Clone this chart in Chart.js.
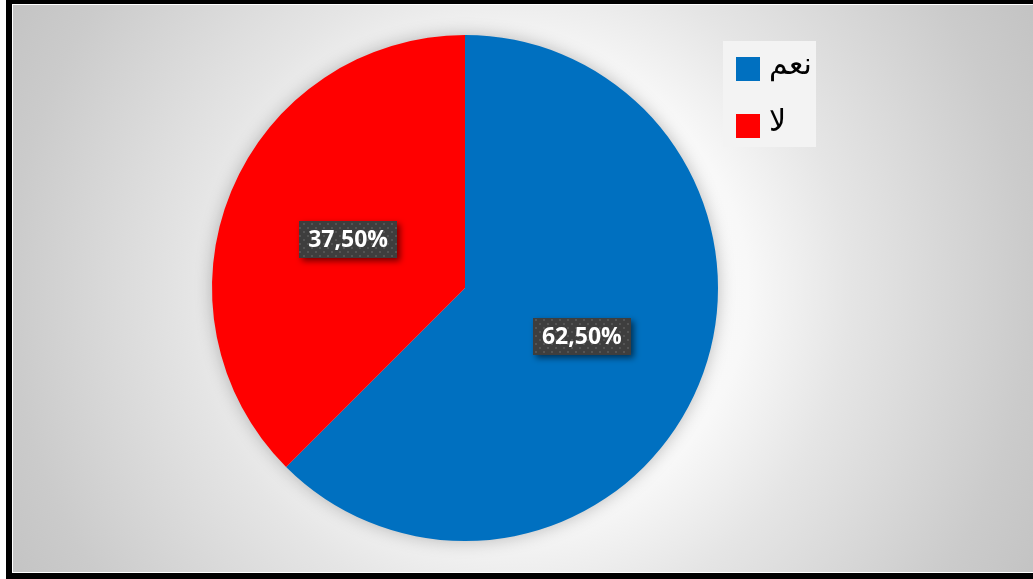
<!DOCTYPE html>
<html>
<head>
<meta charset="utf-8">
<script src="https://cdn.jsdelivr.net/npm/chart.js@4"></script>
<style>
  html, body { margin: 0; padding: 0; background: #ffffff; overflow: hidden; width: 1033px; height: 579px; }
  .frame { position: absolute; left: 6px; top: -2px; width: 1100px; height: 581px; background: #000000; }
  .inner { position: absolute; left: 6px; top: 6px; right: 6px; bottom: 6px; background: #ffffff; }
  #chart { position: absolute; left: 13px; top: 5px; }
</style>
</head>
<body>
<div class="frame"><div class="inner"></div></div>
<canvas id="chart" width="1020" height="567"></canvas>
<script>
// Survey answers and their shares (percent)
const categories = ['نعم', 'لا'];
const shares = [62.5, 37.5];
const sliceColors = ['#0070C0', '#FF0000'];

function formatShare(v) {
  return v.toFixed(2).replace('.', ',') + '%';
}

// Dotted dark fill used behind the value labels
function makeDotPattern(ctx) {
  const c = document.createElement('canvas');
  c.width = 8; c.height = 8;
  const p = c.getContext('2d');
  p.fillStyle = '#3e3e3e';
  p.fillRect(0, 0, 8, 8);
  p.fillStyle = '#545454';
  p.fillRect(2, 2, 2, 2);
  p.fillRect(6, 6, 2, 2);
  return ctx.createPattern(c, 'repeat');
}

// Soft radial backdrop for the whole chart area
const backdrop = {
  id: 'backdrop',
  beforeDraw(chart) {
    const ctx = chart.ctx;
    const w = chart.width, h = chart.height;
    const g = ctx.createRadialGradient(507, 285, 0, 507, 285, 600);
    g.addColorStop(0, '#ffffff');
    g.addColorStop(0.38, '#f8f8f8');
    g.addColorStop(0.55, '#e5e5e5');
    g.addColorStop(0.85, '#cbcbcb');
    g.addColorStop(1, '#c2c2c2');
    ctx.save();
    ctx.fillStyle = g;
    ctx.fillRect(0, 0, w, h);
    ctx.restore();
  }
};

// Faint halo under the pie
const pieHalo = {
  id: 'pieHalo',
  beforeDatasetsDraw(chart) {
    const arc = chart.getDatasetMeta(0).data[0];
    if (!arc) return;
    const ctx = chart.ctx;
    ctx.save();
    ctx.shadowColor = 'rgba(0,0,0,0.28)';
    ctx.shadowBlur = 18;
    ctx.fillStyle = '#d0d0d0';
    ctx.beginPath();
    ctx.arc(arc.x, arc.y, arc.outerRadius - 1, 0, Math.PI * 2);
    ctx.fill();
    ctx.restore();
  }
};

// Value labels on dark dotted boxes
const valueLabels = {
  id: 'valueLabels',
  afterDatasetsDraw(chart) {
    const ctx = chart.ctx;
    const meta = chart.getDatasetMeta(0);
    const pattern = makeDotPattern(ctx);
    ctx.save();
    ctx.font = 'bold 23px "Open Sans"';
    ctx.textAlign = 'center';
    ctx.textBaseline = 'middle';
    meta.data.forEach((arc, i) => {
      const pos = arc.tooltipPosition();
      const text = formatShare(chart.data.datasets[0].data[i]);
      const bw = 98, bh = 37;
      const x = Math.round(pos.x - bw / 2), y = Math.round(pos.y - bh / 2);
      ctx.save();
      ctx.shadowColor = 'rgba(0,0,0,0.55)';
      ctx.shadowBlur = 6;
      ctx.shadowOffsetX = 3;
      ctx.shadowOffsetY = 3;
      ctx.fillStyle = pattern;
      ctx.fillRect(x, y, bw, bh);
      ctx.restore();
      ctx.fillStyle = '#ffffff';
      ctx.fillText(text, pos.x, pos.y + 1);
    });
    ctx.restore();
  }
};

// Legend box in the top-right corner
const cornerLegend = {
  id: 'cornerLegend',
  afterDraw(chart) {
    const ctx = chart.ctx;
    const labels = chart.data.labels;
    const colors = chart.data.datasets[0].backgroundColor;
    ctx.save();
    ctx.fillStyle = '#f3f3f3';
    ctx.fillRect(710, 36, 93, 106);
    ctx.font = '30px "DejaVu Sans"';
    ctx.textAlign = 'left';
    ctx.textBaseline = 'middle';
    labels.forEach((lab, i) => {
      const y = 52 + i * 57;
      ctx.fillStyle = colors[i];
      ctx.fillRect(723, y, 24, 24);
      ctx.fillStyle = '#000000';
      ctx.fillText(lab, 756, y + 9);
    });
    ctx.restore();
  }
};

new Chart(document.getElementById('chart'), {
  type: 'pie',
  data: {
    labels: categories,
    datasets: [{
      data: shares,
      backgroundColor: sliceColors,
      borderWidth: 0
    }]
  },
  options: {
    responsive: false,
    animation: false,
    layout: { padding: { left: 199, right: 315, top: 30, bottom: 31 } },
    plugins: {
      legend: { display: false },
      tooltip: { enabled: false }
    }
  },
  plugins: [backdrop, pieHalo, valueLabels, cornerLegend]
});
</script>
</body>
</html>
